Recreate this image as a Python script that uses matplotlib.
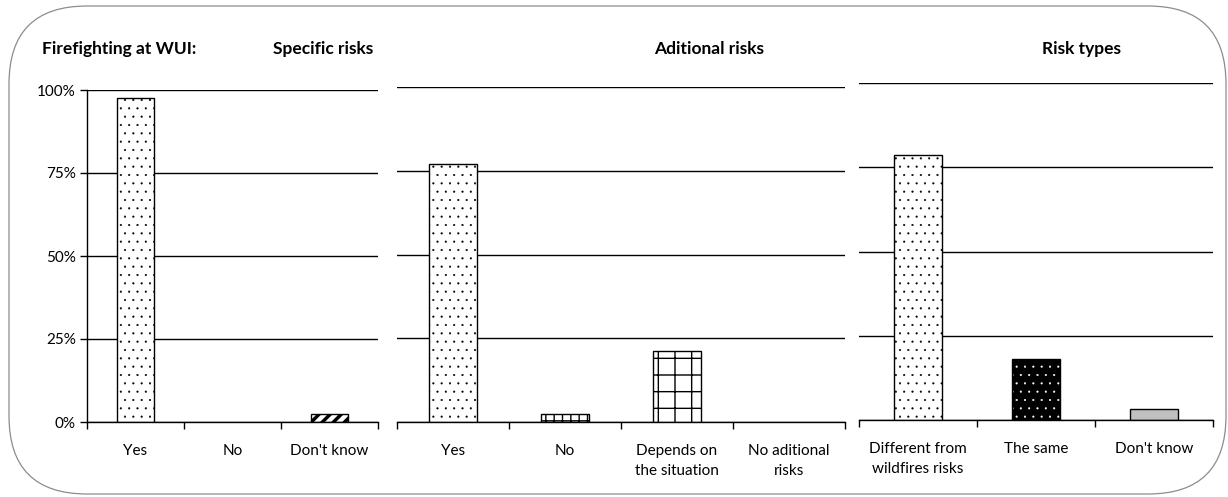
import matplotlib
matplotlib.use("Agg")
import matplotlib.pyplot as plt
from matplotlib.patches import FancyBboxPatch

plt.rcParams['font.family'] = ['Lato', 'DejaVu Sans']
plt.rcParams['hatch.linewidth'] = 1.0

# survey answers, percent of respondents
specific_cats = ['Yes', 'No', "Don't know"]
specific_vals = [97.6, 0.0, 2.4]

additional_cats = ['Yes', 'No', 'Depends on\nthe situation', 'No aditional\nrisks']
additional_vals = [77.0, 2.4, 21.3, 0.0]

type_cats = ['Different from\nwildfires risks', 'The same', "Don't know"]
type_vals = [78.6, 18.1, 3.3]

y_ticks = [0, 25, 50, 75, 100]
y_labels = ['0%', '25%', '50%', '75%', '100%']

W, H = 1228, 497
fig = plt.figure(figsize=(W / 100, H / 100), dpi=100)

# rounded frame around everything
bg = fig.add_axes([0, 0, 1, 1], zorder=-1)
bg.set_xlim(0, W)
bg.set_ylim(H, 0)
bg.axis('off')
bg.add_patch(FancyBboxPatch((9, 6), 1217, 488,
                            boxstyle="round,pad=0,rounding_size=78",
                            fill=False, edgecolor='#8c8c8c', linewidth=0.9))


def px_axes(x0, x1, y_top, y_bot):
    return fig.add_axes([x0 / W, (H - y_bot) / H, (x1 - x0) / W, (y_bot - y_top) / H])


def setup(ax, cats, show_y):
    n = len(cats)
    ax.set_xlim(-0.5, n - 0.5)
    ax.set_ylim(0, 100)
    ax.set_yticks(y_ticks)
    ax.yaxis.grid(True, color='black', linewidth=1.0)
    ax.set_axisbelow(True)
    for s in ['top', 'right']:
        ax.spines[s].set_visible(False)
    ax.spines['bottom'].set_linewidth(1.0)
    # boundary ticks between categories, labels centred on bars
    ax.set_xticks([i - 0.5 for i in range(n + 1)])
    ax.set_xticklabels([])
    ax.tick_params(axis='x', which='major', direction='out', length=5, width=1.0)
    ax.set_xticks(range(n), minor=True)
    ax.set_xticklabels(cats, minor=True, fontsize=11, linespacing=1.55, va='top')
    ax.tick_params(axis='x', which='minor', length=0, pad=16)
    if show_y:
        ax.set_yticklabels(y_labels, fontsize=11)
        ax.spines['left'].set_linewidth(1.0)
        ax.tick_params(axis='y', direction='out', length=5, width=1.0, pad=3)
    else:
        ax.spines['left'].set_visible(False)
        ax.tick_params(axis='y', length=0, labelleft=False)


def draw_bar(ax, i, val, width, hatch=None, face='white', edge='black',
             lw=1.0, hatch_lw=None, z=2):
    bar = ax.bar(i, val, width=width, color=face, edgecolor=edge,
                 linewidth=lw, hatch=hatch, zorder=z)[0]
    if hatch_lw is not None and hasattr(bar, 'set_hatch_linewidth'):
        bar.set_hatch_linewidth(hatch_lw)
    return bar


DOTS = '..'
DOT_LW = 0.3

# Specific risks
ax1 = px_axes(87, 378, 90, 422)
setup(ax1, specific_cats, True)
draw_bar(ax1, 0, specific_vals[0], 0.39, hatch=DOTS, hatch_lw=DOT_LW)
if specific_vals[1] > 0:
    draw_bar(ax1, 1, specific_vals[1], 0.39)
draw_bar(ax1, 2, specific_vals[2], 0.39, hatch='///', hatch_lw=2.5)

# Additional risks
ax2 = px_axes(397, 845, 87, 422)
setup(ax2, additional_cats, False)
draw_bar(ax2, 0, additional_vals[0], 0.43, hatch=DOTS, hatch_lw=DOT_LW)
draw_bar(ax2, 1, additional_vals[1], 0.43, hatch='++')
draw_bar(ax2, 2, additional_vals[2], 0.43, hatch='+')
if additional_vals[3] > 0:
    draw_bar(ax2, 3, additional_vals[3], 0.43)

# Risk types
ax3 = px_axes(859, 1213, 83, 420)
setup(ax3, type_cats, False)
draw_bar(ax3, 0, type_vals[0], 0.41, hatch=DOTS, hatch_lw=DOT_LW)
# black bar with white dots: hatch takes the edge colour, outline added on top
draw_bar(ax3, 1, type_vals[1], 0.41, hatch=DOTS, face='black', edge='white',
         lw=0, hatch_lw=DOT_LW)
ax3.bar(1, type_vals[1], width=0.41, fill=False, edgecolor='black',
        linewidth=1.0, zorder=3)
draw_bar(ax3, 2, type_vals[2], 0.41, face='#c0c0c0')

# headings
title_kw = dict(fontsize=12.5, fontweight='bold', va='center', ha='center')
bg.text(42, 49, 'Firefighting at WUI:', **dict(title_kw, ha='left'))
bg.text(323, 49, 'Specific risks', **title_kw)
bg.text(709, 49, 'Aditional risks', **title_kw)
bg.text(1081, 49, 'Risk types', **title_kw)

fig.savefig('out.png', dpi=100)
